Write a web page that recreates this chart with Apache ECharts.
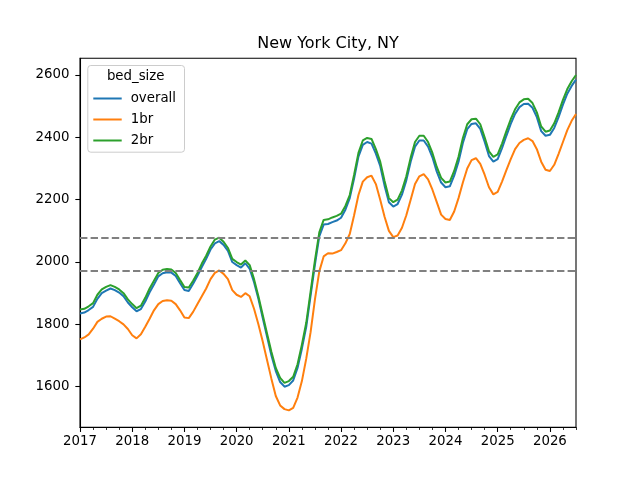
<!DOCTYPE html>
<html><head><meta charset="utf-8">
<script src="https://cdn.jsdelivr.net/npm/echarts@6/dist/echarts.min.js"></script>
<style>html,body{margin:0;padding:0;background:#fff}#c{width:640px;height:480px}</style>
</head><body><div id="c"></div><script>
const startYear = 2017;
const yearTicks = [2017, 2018, 2019, 2020, 2021, 2022, 2023, 2024, 2025, 2026];
const yTicks = [1600, 1800, 2000, 2200, 2400, 2600];
const seriesNames = ['overall', '1br', '2br'];
const overall = [
 1835, 1838, 1846, 1856, 1882, 1900, 1908, 1915, 1910, 1902, 1890, 1870,
 1855, 1842, 1849, 1873, 1903, 1928, 1954, 1964, 1967, 1966, 1955, 1932,
 1910, 1907, 1930, 1956, 1984, 2010, 2040, 2060, 2067, 2055, 2036, 2000,
 1990, 1982, 1996, 1978, 1935, 1882, 1820, 1760, 1700, 1650, 1615, 1600,
 1605, 1620, 1660, 1722, 1792, 1892, 1992, 2082, 2120, 2122, 2128, 2133,
 2142, 2168, 2205, 2268, 2338, 2376, 2385, 2380, 2348, 2308, 2245, 2192,
 2178, 2186, 2216, 2262, 2322, 2370, 2390, 2390, 2370, 2336, 2290, 2255,
 2240, 2243, 2277, 2322, 2382, 2426, 2443, 2445, 2427, 2386, 2340, 2322,
 2330, 2365, 2405, 2443, 2475, 2497, 2507, 2508, 2495, 2465, 2420, 2405,
 2408, 2430, 2465, 2505, 2540, 2565, 2585
];
const br1 = [
 1752, 1758, 1768, 1786, 1808, 1818, 1825, 1826, 1818, 1810, 1800, 1785,
 1765, 1755, 1768, 1792, 1818, 1845, 1865, 1875, 1877, 1876, 1865, 1845,
 1822, 1820, 1840, 1865, 1890, 1915, 1945, 1965, 1973, 1962, 1945, 1910,
 1895, 1888, 1900, 1890, 1850, 1800, 1745, 1685, 1625, 1570, 1540, 1528,
 1524, 1532, 1565, 1618, 1690, 1775, 1880, 1970, 2018, 2028, 2027, 2032,
 2038, 2060, 2090, 2150, 2215, 2258, 2272, 2277, 2250, 2200, 2145, 2100,
 2080, 2085, 2110, 2150, 2200, 2250, 2275, 2282, 2265, 2232, 2192, 2152,
 2138, 2135, 2162, 2205, 2255, 2300, 2327, 2333, 2315, 2280, 2240, 2217,
 2225, 2258, 2295, 2330, 2362, 2382, 2392, 2397, 2388, 2362, 2322, 2296,
 2292, 2312, 2347, 2385, 2423, 2453, 2475
];
const br2 = [
 1848, 1850, 1858, 1868, 1895, 1912, 1920, 1926, 1920, 1912, 1900, 1880,
 1865, 1852, 1860, 1885, 1915, 1940, 1965, 1975, 1978, 1976, 1965, 1942,
 1920, 1918, 1940, 1965, 1995, 2020, 2050, 2072, 2078, 2065, 2045, 2010,
 2000, 1992, 2005, 1990, 1945, 1890, 1830, 1770, 1711, 1660, 1628, 1612,
 1618, 1632, 1672, 1735, 1805, 1905, 2005, 2095, 2135, 2137, 2143, 2148,
 2155, 2180, 2215, 2280, 2350, 2390, 2398, 2395, 2362, 2322, 2260, 2205,
 2192, 2200, 2230, 2275, 2335, 2385, 2405, 2405, 2385, 2350, 2305, 2270,
 2255, 2258, 2292, 2338, 2398, 2442, 2458, 2460, 2442, 2400, 2355, 2337,
 2345, 2380, 2420, 2458, 2490, 2512, 2522, 2524, 2510, 2480, 2435, 2418,
 2422, 2445, 2480, 2520, 2555, 2580, 2600
];
const refLines = [2077, 1972];

const xs = overall.map((_, i) => startYear + i / 12);
const xMax = xs[xs.length - 1];
const minorTicks = [];
for (let q = 1; startYear + q / 4 <= xMax + 1e-9; q++) {
  if (q % 4 !== 0) minorTicks.push(startYear + q / 4);
}
const FONT = 'DejaVu Sans';
const colors = ['#1f77b4', '#ff7f0e', '#2ca02c'];
const dataSets = [overall, br1, br2];

const chart = echarts.init(document.getElementById('c'), null, {renderer: 'canvas'});
chart.setOption({
  animation: false,
  backgroundColor: '#fff',
  title: {
    text: 'New York City, NY', left: 328, top: 36, textAlign: 'center', padding: 0,
    textStyle: {fontSize: 16, fontWeight: 'normal', fontFamily: FONT, color: '#000'}
  },
  grid: {left: 80, right: 64, top: 58.3, bottom: 52.7, show: true, borderColor: '#000', borderWidth: 1.07, backgroundColor: 'transparent'},
  legend: {
    data: seriesNames, orient: 'vertical', left: 92.3, top: 92, padding: 0,
    itemWidth: 28.4, itemHeight: 14, itemGap: 8,
    itemStyle: {opacity: 0},
    textStyle: {fontSize: 13.33, fontFamily: FONT, color: '#000', padding: [0, 0, 0, 4]}
  },
  graphic: [
    {type: 'rect', left: 87.3, top: 65, z: 0, shape: {width: 96.7, height: 86.7, r: 3},
     style: {fill: 'rgba(255,255,255,0.8)', stroke: '#cccccc', lineWidth: 1}},
    {type: 'text', x: 135.7, y: 77, z: 1,
     style: {text: 'bed_size', fontSize: 13.33, fontFamily: FONT, fill: '#000', align: 'center', verticalAlign: 'middle'}}
  ],
  xAxis: [
    {type: 'value', min: startYear, max: xMax, position: 'bottom',
     axisLine: {show: true, onZero: false, lineStyle: {color: '#000', width: 1.07}},
     axisTick: {show: true, customValues: yearTicks, length: 4.67, lineStyle: {color: '#000', width: 1.07}},
     axisLabel: {customValues: yearTicks, formatter: v => String(Math.round(v)), color: '#000', fontSize: 13.33, fontFamily: FONT, margin: 8},
     splitLine: {show: false}},
    {type: 'value', min: startYear, max: xMax, position: 'bottom',
     axisLine: {show: false, onZero: false},
     axisTick: {show: true, customValues: minorTicks, length: 2.67, lineStyle: {color: '#000', width: 0.8}},
     axisLabel: {show: false}, splitLine: {show: false}}
  ],
  yAxis: {
    type: 'value', min: 1469.7, max: 2653.6,
    axisLine: {show: true, onZero: false, lineStyle: {color: '#000', width: 1.07}},
    axisTick: {show: true, customValues: yTicks, length: 4.67, lineStyle: {color: '#000', width: 1.07}},
    axisLabel: {customValues: yTicks, formatter: v => String(v), color: '#000', fontSize: 13.33, fontFamily: FONT, margin: 10.5},
    splitLine: {show: false}
  },
  series: seriesNames.map((name, k) => {
    const s = {
      name, type: 'line', xAxisIndex: 0, symbol: 'none', smooth: false,
      data: xs.map((x, i) => [x, dataSets[k][i]]),
      lineStyle: {width: 2, color: colors[k]}, itemStyle: {color: colors[k]}, z: 2 + k
    };
    if (k === seriesNames.length - 1) {
      s.markLine = {
        silent: true, symbol: ['none', 'none'], label: {show: false}, z: 10,
        lineStyle: {type: [7.4, 3.2], color: '#808080', width: 2},
        data: refLines.map(v => ({yAxis: v}))
      };
    }
    return s;
  })
});
</script></body></html>
